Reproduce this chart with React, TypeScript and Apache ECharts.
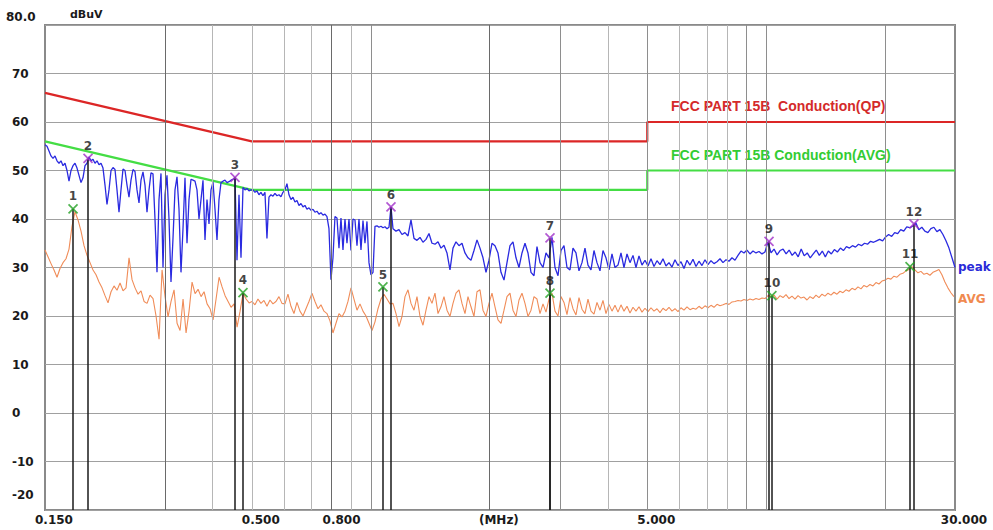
import React, { useEffect, useRef } from "react";
import * as echarts from "echarts";

// ---- axis ticks ----
const xTickFreqs = [0.15, 0.5, 0.8, 2, 5, 30];
const xTickTexts = ["0.150", "0.500", "0.800", "(MHz)", "5.000", "30.000"];
const yMin = -20;
const yMax = 80;
const yStep = 10;
const gridFreqsDark = [0.3, 0.8, 2];
const gridFreqsMid = [1, 3, 5, 9, 10, 20];
const gridFreqsLight = [0.4, 0.5, 0.6, 0.7, 0.9, 4, 6, 7, 8];

// ---- limit lines (MHz, dBuV) ----
const qpLimit = [[0.15, 66], [0.5, 56], [5, 56], [5, 60], [30, 60]];
const avgLimit = [[0.15, 56], [0.5, 46], [5, 46], [5, 50], [30, 50]];

// ---- peak trace, sweep bands (MHz range + readings) ----
const peakBandA = [55.3, 55, 54, 53, 52.5, 53, 52, 51.5, 52, 51, 51.5, 50, 47.8, 50, 51, 51.5, 50.5, 49, 47.5, 48.5,
  51, 51.5, 52.8, 52, 52.3, 51.5, 52, 51.2, 51.5, 50.5, 47, 43, 46, 50, 50.6, 50.2, 46, 41.4, 46, 50.3,
  50, 47, 44.5, 48, 50.2, 49.8, 46, 43.3, 48, 49.7, 47, 41.4, 46, 49.5, 49.3, 40, 29, 44, 49.4, 30,
  45, 49, 40, 27, 36, 46, 48.7, 42, 29, 38, 48.5, 35, 44, 48.2, 48, 47.8, 46, 40, 44, 48,
  35.7, 44, 39, 46, 47.6, 42, 35.7, 44, 47.5, 47.8, 48, 47.5, 47.7, 48, 48.2, 48.5, 31.5, 45, 32, 46.5,
  46, 46.3, 45.8, 46];
const peakBandB = [46, 45.5, 45.8, 45, 45.5, 44.8, 45.5, 36, 44.5, 45, 44.7, 45.3, 44.8, 45, 44.6, 45.5, 46, 47.3, 45, 44,
  44.5, 43.5, 43.8, 42.8, 43.2, 42.5, 42.8, 42, 42.3, 41.8, 42, 41.4, 41.6, 41, 41.3, 40.8, 41, 40.5, 38, 27.5,
  32, 40.5, 40.2, 34, 40.2, 33.6, 40, 35, 40, 33.5, 40, 39.8, 34.5, 40, 33.6, 39.7, 35, 39.5, 31, 28.5,
  29, 38.5, 38.6, 38.3, 38.5, 38.2, 38.4, 38, 38.3, 42.5];
const peakBandC = [38, 37.5, 37.8, 36.8, 37.2, 36.5, 39.8, 36, 35.6, 36.2, 35.2, 35.8, 37, 35, 34.8, 35.3, 34, 34.6, 33, 29.5,
  34, 35.3, 34.5, 35, 33, 32, 31.5, 33.5, 35.7, 34, 32, 29, 31.5, 35, 34.5, 33, 29, 27.4, 31, 34.5,
  35.3, 32, 30, 33, 35, 33, 29, 28.3, 34.3, 31, 30, 33, 32, 36.2, 30, 28.3, 33.5, 34.5, 30, 29.5,
  34, 33, 29.3, 31, 34, 30.5, 29.5, 33.5, 31, 29.3, 33.5, 32, 29.5, 32.8, 30, 30.5, 33, 30, 32.8, 31,
  32.5, 30, 32.4, 30.5, 31.5, 30.3, 31.8, 30.2, 31.4, 30.6, 31.8, 30.3, 31, 30.1, 31.6, 30.4, 31.2, 29.8, 31.5, 30.5,
  31.7, 30.2, 31.3, 30.4, 31.6, 30.6, 31.4, 30.8, 31.2, 31.8, 31, 31.6, 31.3, 32, 31.5, 32.5, 33.4, 33, 33.6, 32.8,
  33.4, 33, 33.3, 32.8, 33.2];
const peakBandD = [35.3, 33, 33.8, 32.6, 33.5, 33.8, 32.8, 33.6, 32.5, 33.2, 32.2, 33.8, 32.4, 33, 32, 32.8, 33.6, 32.5, 33.4, 32.2,
  33.4, 32.8, 33.7, 33.2, 34, 33.5, 34.3, 34, 34.5, 34.2, 34.8, 34.5, 35, 34.8, 35.4, 35.2, 35.5, 35.8, 35.5, 36.3,
  36.8, 36.4, 37.2, 37, 37.8, 37.5, 38.4, 38.2, 38.5, 39.2, 37.8, 38.3, 37.5, 37.2, 38, 38.3, 37.4, 37.8, 36.8, 35.5,
  34, 32, 30];

// ---- average trace ----
const avgBandA = [33.6, 32.2, 30.8, 29.5, 28, 29.8, 31, 31.8, 33.8, 38.5, 41.5, 39.8, 37.5, 34.5, 32.5, 31, 29.5, 28.5, 27, 25.8,
  24.2, 22.7, 25, 26.2, 25.3, 26.8, 25.2, 25.8, 32, 27.5, 25.8, 24.5, 25.2, 23, 22.6, 24.3, 23.6, 20, 15.2, 29.5,
  24, 19.8, 23, 25.4, 18.5, 17, 23.5, 16.5, 21, 27, 24.6, 25.5, 24, 25, 22.5, 21.5, 19.2, 23.5, 28, 26,
  24.2, 23, 21.8, 22.5, 17.7, 21, 24.7, 23.5, 22.7];
const avgBandB = [23, 22.3, 23.5, 22.6, 23.2, 22, 23.3, 22.5, 23, 24, 22.6, 22.5, 24.5, 22, 20.5, 22.8, 21, 20, 21.5, 23,
  24.7, 23, 21.5, 22.3, 21, 20.5, 19, 16.5, 18.5, 20.5, 19.8, 21, 23, 25.8, 23.5, 21.2, 22.5, 21, 20, 18.5,
  17, 18.8, 21.5, 23.5, 24.5, 23.5, 22.5];
const avgBandC = [22.6, 20.5, 17.8, 19.9, 24, 25.4, 22.6, 21.2, 24, 19.9, 18.1, 21.2, 24, 22.6, 24.7, 20.5, 21.9, 24, 21.2, 19.9,
  22.6, 24.7, 25.4, 22.6, 20.5, 24, 21.9, 19.9, 25, 25.4, 21.2, 19.9, 22.6, 24.7, 21.9, 19.2, 18.5, 21.2, 24, 24.7,
  21.2, 19.9, 23.3, 24.7, 22.6, 19.9, 21.2, 24,
  23.5, 20.5, 22.5, 20.8, 23.5, 24.7, 21, 20, 24, 22.8, 20.3, 23.8, 21.5, 20.2, 23.8, 21.4, 20.5, 23.5, 21, 20.4,
  22.8, 21.2, 23.2, 20.5, 22.4, 21, 22.2, 20.8, 22.3, 21, 22, 20.6, 21.8, 21, 21.9, 20.8, 21.6, 20.9, 21.7, 21,
  21.5, 20.7, 21.6, 21.1, 21.8, 21, 21.5, 20.9, 21.7, 21.2, 21.9, 21.3, 21.6, 21.4, 22, 21.5, 22.1, 21.7, 22.2, 21.8,
  22.4, 22.1, 22.3, 22.6, 22.4, 22.9, 23, 23.2, 23.1, 23.4, 23.2, 23.5, 23.3, 23.6, 23.4, 23.7, 23.6];
const avgBandD = [24.2, 24, 24.3, 23.5, 24.2, 23.8, 24.4, 23.6, 24.1, 23.5, 24.2, 23.7, 23.9, 23.3, 24, 23.6, 24.3, 23.8, 24.5, 24.1,
  24.7, 24.3, 24.9, 24.5, 25.1, 24.8, 25.4, 25.1, 25.7, 25.4, 26, 25.6, 26.3, 26, 26.5, 26.2, 26.9, 26.6, 27.2, 27.4,
  27.8, 27.6, 28.2, 28, 28.6, 28.8, 29.3, 29.6, 30.2, 29.5, 28.9, 29.2, 28.6, 28.8, 28.4, 29, 29.3, 29.6, 28.5, 27,
  25.8, 24.8, 24];

const peakBands = [
  { from: 0.15, to: 0.4977, values: peakBandA },
  { from: 0.5034, to: 1.1245, values: peakBandB },
  { from: 1.1377, to: 9.923, values: peakBandC },
  { from: 10.1, to: 30, values: peakBandD },
];
const avgBands = [
  { from: 0.15, to: 0.4922, values: avgBandA },
  { from: 0.5005, to: 1.118, values: avgBandB },
  { from: 1.1377, to: 9.923, values: avgBandC },
  { from: 10.1, to: 29.81, values: avgBandD },
];

// ---- markers: [MHz, dBuV, label] ----
const peakMarkers: [number, number, string][] = [
  [0.1927, 52.5, "2"], [0.4534, 48.6, "3"], [1.1245, 42.5, "6"],
  [2.838, 36.1, "7"], [10.16, 35.4, "9"], [23.62, 39.0, "12"],
];
const avgMarkers: [number, number, string][] = [
  [0.1766, 42.1, "1"], [0.475, 24.8, "4"], [1.073, 26.0, "5"],
  [2.838, 24.7, "8"], [10.33, 24.2, "10"], [23.09, 30.2, "11"],
];

const lg = (f: number) => Math.log10(f);

function sweep(bands: { from: number; to: number; values: number[] }[]) {
  const out: number[][] = [];
  bands.forEach((b) => {
    const a = lg(b.from);
    const z = lg(b.to);
    const n = b.values.length;
    b.values.forEach((v, i) => out.push([a + ((z - a) * i) / (n - 1), v]));
  });
  return out;
}

const AXIS_FONT = '"DejaVu Sans", Verdana, sans-serif';
const crossPath = "path://M0,0L10,10M10,0L0,10";

export default function App() {
  const ref = useRef<HTMLDivElement>(null);
  useEffect(() => {
    if (!ref.current) return;
    const chart = echarts.init(ref.current, undefined, { renderer: "svg" });
    const xTickVals = xTickFreqs.map(lg);
    const markerSeries = (list: [number, number, string][], color: string) => ({
      type: "scatter",
      data: list.map(([f, v, n]) => [lg(f), v, n]),
      symbol: crossPath,
      symbolSize: 9,
      silent: true,
      z: 6,
      itemStyle: { color: "rgba(0,0,0,0)", borderColor: color, borderWidth: 1.7 },
      label: {
        show: true,
        position: "top",
        distance: 1,
        formatter: (p: any) => p.value[2],
        color: "#111",
        fontSize: 12,
        fontWeight: "bold",
        fontFamily: AXIS_FONT,
      },
      markLine: {
        silent: true,
        symbol: ["none", "none"],
        label: { show: false },
        lineStyle: { color: "#1a1a1a", width: 1.5, type: "solid" },
        data: list.map(([f, v]) => [{ coord: [lg(f), v] }, { coord: [lg(f), yMin] }]),
      },
    });
    const gridLine = (f: number, color: string) => ({
      xAxis: lg(f),
      lineStyle: { color, width: 1, type: "solid" },
    });
    const option: any = {
      animation: false,
      backgroundColor: "#ffffff",
      grid: {
        left: 45, right: 38, top: 25, bottom: 20,
        show: true, borderColor: "#8a8a8a", borderWidth: 2,
        outerBoundsMode: "none",
      },
      xAxis: {
        type: "value",
        min: lg(0.15),
        max: lg(30),
        axisLine: { show: false },
        axisTick: { show: false },
        splitLine: { show: false },
        axisLabel: {
          customValues: xTickVals,
          margin: 4,
          formatter: (v: number) => {
            let best = 0;
            xTickVals.forEach((t, i) => {
              if (Math.abs(t - v) < Math.abs(xTickVals[best] - v)) best = i;
            });
            return `{s|${xTickTexts[best]}}`;
          },
          rich: {
            s: { padding: [0, 0, 0, 18], fontFamily: AXIS_FONT, fontWeight: "bold", fontSize: 12, color: "#1a1a1a" },
          },
        },
      },
      yAxis: [
        {
          type: "value",
          min: yMin, max: yMax, interval: yStep,
          axisLine: { show: false },
          axisTick: { show: false },
          splitLine: { show: true, lineStyle: { color: "#a0a0a0", width: 1 } },
          axisLabel: {
            align: "left",
            margin: 33,
            formatter: (v: number) => (v === yMax ? "" : v === yMin ? `{b|${v}}` : `{n|${v}}`),
            rich: {
              n: { fontFamily: AXIS_FONT, fontWeight: "bold", fontSize: 12, color: "#1a1a1a" },
              b: { fontFamily: AXIS_FONT, fontWeight: "bold", fontSize: 12, color: "#1a1a1a", padding: [0, 0, 30, 0] },
            },
          },
        },
        {
          type: "value",
          min: yMin, max: yMax, interval: yStep,
          position: "left",
          axisLine: { show: false },
          axisTick: { show: false },
          splitLine: { show: false },
          axisLabel: {
            align: "left",
            margin: 39,
            formatter: (v: number) => (v === yMax ? `{t|${v.toFixed(1)}}` : ""),
            rich: {
              t: { fontFamily: AXIS_FONT, fontWeight: "bold", fontSize: 12, color: "#1a1a1a", padding: [0, 0, 16, 0] },
            },
          },
        },
      ],
      series: [
        {
          type: "line",
          name: "grid",
          data: qpLimit.map(([f, v]) => [lg(f), v]),
          symbol: "none",
          silent: true,
          lineStyle: { opacity: 0 },
          z: 1,
          markLine: {
            silent: true,
            symbol: ["none", "none"],
            label: { show: false },
            data: [
              ...gridFreqsLight.map((f) => gridLine(f, "#b6b6b6")),
              ...gridFreqsMid.map((f) => gridLine(f, "#8e8e8e")),
              ...gridFreqsDark.map((f) => gridLine(f, "#6a6a6a")),
            ],
          },
        },
        {
          type: "line",
          name: "FCC PART 15B Conduction(QP)",
          data: qpLimit.map(([f, v]) => [lg(f), v]),
          symbol: "none",
          silent: true,
          lineStyle: { color: "#dc2626", width: 2.2 },
          z: 2,
        },
        {
          type: "line",
          name: "FCC PART 15B Conduction(AVG)",
          data: avgLimit.map(([f, v]) => [lg(f), v]),
          symbol: "none",
          silent: true,
          lineStyle: { color: "#44dd44", width: 2.2 },
          z: 2,
        },
        {
          type: "line",
          name: "AVG",
          data: sweep(avgBands),
          symbol: "none",
          silent: true,
          lineStyle: { color: "#f08c58", width: 1.1 },
          z: 3,
        },
        {
          type: "line",
          name: "peak",
          data: sweep(peakBands),
          symbol: "none",
          silent: true,
          lineStyle: { color: "#2a2ae0", width: 1.3 },
          z: 4,
        },
        markerSeries(peakMarkers, "#a030c8"),
        markerSeries(avgMarkers, "#22a022"),
      ],
      graphic: [
        { type: "text", left: 70, top: 9, style: { text: "dBuV", fill: "#1a1a1a", font: `bold 11px ${AXIS_FONT}` } },
        { type: "text", left: 671, top: 99, style: { text: "FCC PART 15B  Conduction(QP)", fill: "#d42a2a", font: 'bold 14px "Liberation Sans", Arial, sans-serif' } },
        { type: "text", left: 671, top: 148, style: { text: "FCC PART 15B Conduction(AVG)", fill: "#33cc33", font: 'bold 14px "Liberation Sans", Arial, sans-serif' } },
        { type: "text", left: 958, top: 261, style: { text: "peak", fill: "#2a2ad8", font: `bold 12px ${AXIS_FONT}` } },
        { type: "text", left: 958, top: 293, style: { text: "AVG", fill: "#f08a50", font: `bold 12px ${AXIS_FONT}` } },
      ],
    };
    chart.setOption(option);
    return () => chart.dispose();
  }, []);
  return (
    <div
      ref={ref}
      style={{ position: "absolute", left: 0, top: 0, width: 993, height: 530, background: "#fff" }}
    />
  );
}
